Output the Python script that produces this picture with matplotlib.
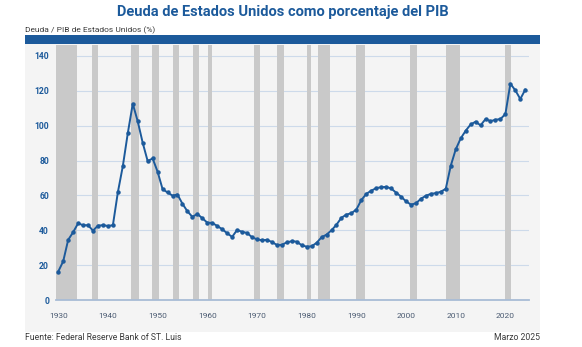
import matplotlib
matplotlib.use('Agg')
import matplotlib.pyplot as plt
from matplotlib.patches import Rectangle

plt.rcParams['font.family'] = ['Roboto', 'DejaVu Sans']

# Deuda pública / PIB de EE. UU. (%), un valor por año
anios = list(range(1930, 2025))
deuda_pib = [
    16.3, 22.2, 34.5, 38.9, 44.0, 42.9, 42.9, 39.8, 42.7, 42.9,
    42.5, 42.9, 61.8, 76.8, 95.7, 112.6, 102.5, 90.2, 79.7, 81.2,
    73.6, 63.6, 61.7, 59.9, 60.5, 55.2, 50.9, 47.7, 49.4, 46.9,
    44.4, 44.2, 42.5, 40.6, 38.3, 36.2, 40.2, 39.1, 38.5, 36.0,
    34.8, 34.3, 34.5, 33.3, 31.6, 31.6, 33.1, 33.7, 33.5, 31.4,
    30.6, 30.8, 32.8, 36.0, 37.5, 40.0, 43.2, 47.2, 49.0, 49.8,
    51.9, 57.3, 60.9, 62.7, 64.2, 64.7, 64.9, 64.0, 61.6, 59.3,
    56.6, 54.7, 55.5, 58.1, 59.8, 60.9, 61.3, 62.1, 63.8, 77.0,
    86.4, 92.7, 97.1, 100.7, 102.3, 100.2, 103.8, 102.6, 103.4, 103.8,
    106.7, 124.1, 120.3, 115.3, 120.7,
]

# periodos de recesión (inicio, fin) en años
recesiones = [
    (1929.5, 1933.8), (1936.7, 1938.0), (1944.6, 1946.2), (1948.8, 1950.2),
    (1953.0, 1954.3), (1957.1, 1958.3), (1960.2, 1961.0), (1969.4, 1970.6),
    (1974.1, 1975.4), (1980.1, 1980.9), (1982.2, 1984.6), (1989.9, 1991.7),
    (2000.7, 2002.3), (2008.0, 2010.8), (2020.0, 2021.2),
]

y_ticks = [0, 20, 40, 60, 80, 100, 120, 140]
x_ticks = [1930, 1940, 1950, 1960, 1970, 1980, 1990, 2000, 2010, 2020]

AZUL = '#1c5a9b'
GRIS_PANEL = '#f4f4f4'
GRIS_REC = '#c9c9c9'
TEXTO = '#3a3a3a'

W, H = 582, 347
fig = plt.figure(figsize=(W / 100, H / 100), dpi=100)
fig.patch.set_facecolor('white')


def fx(px):
    return px / W


def fy(py):
    return 1 - py / H


# panel gris de fondo y barra azul de cabecera
fig.patches.append(Rectangle((fx(25), fy(332)), fx(540) - fx(25), fy(44) - fy(332),
                             transform=fig.transFigure, facecolor=GRIS_PANEL,
                             edgecolor='none', zorder=-2))
fig.patches.append(Rectangle((fx(25), fy(44)), fx(540) - fx(25), fy(35) - fy(44),
                             transform=fig.transFigure, facecolor=AZUL,
                             edgecolor='none', zorder=-2))

fig.text(fx(283), fy(12), 'Deuda de Estados Unidos como porcentaje del PIB',
         ha='center', va='center', fontsize=10.5, fontweight='bold', color=AZUL)
fig.text(fx(25), fy(30), 'Deuda / PIB de Estados Unidos (%)',
         ha='left', va='center', fontsize=6, color=TEXTO)
fig.text(fx(25), fy(338), 'Fuente: Federal Reserve Bank of ST. Luis',
         ha='left', va='center', fontsize=6.2, color=TEXTO)
fig.text(fx(540), fy(338), 'Marzo 2025',
         ha='right', va='center', fontsize=6.2, color=TEXTO)

ax = fig.add_axes([fx(56), fy(300), fx(529) - fx(56), fy(45) - fy(300)])
ax.set_zorder(2)
ax.set_facecolor('none')

for ini, fin in recesiones:
    ax.axvspan(ini, fin, facecolor=GRIS_REC, edgecolor='none', zorder=1)

ax.plot(anios, deuda_pib, color=AZUL, lw=1.4, marker='o', ms=2.2,
        zorder=3, solid_joinstyle='round')

ax.set_xlim(1929.55, 2024.75)
ax.set_ylim(0, 146.3)
ax.set_yticks(y_ticks)
ax.set_xticks(x_ticks)
ax.grid(axis='y', color='#cddaea', lw=0.8, zorder=0)
ax.set_axisbelow(True)

for s in ['top', 'right', 'left']:
    ax.spines[s].set_visible(False)
ax.spines['bottom'].set_color('#a8bcd6')
ax.spines['bottom'].set_linewidth(1.3)
ax.spines['bottom'].set_zorder(4)

ax.tick_params(length=0)
ax.tick_params(axis='y', pad=5, labelsize=6.2, labelcolor=AZUL)
ax.tick_params(axis='x', pad=9, labelsize=6, labelcolor='#4b5b72')
for lab in ax.get_yticklabels():
    lab.set_fontweight('bold')

fig.savefig('out.png', dpi=100)
